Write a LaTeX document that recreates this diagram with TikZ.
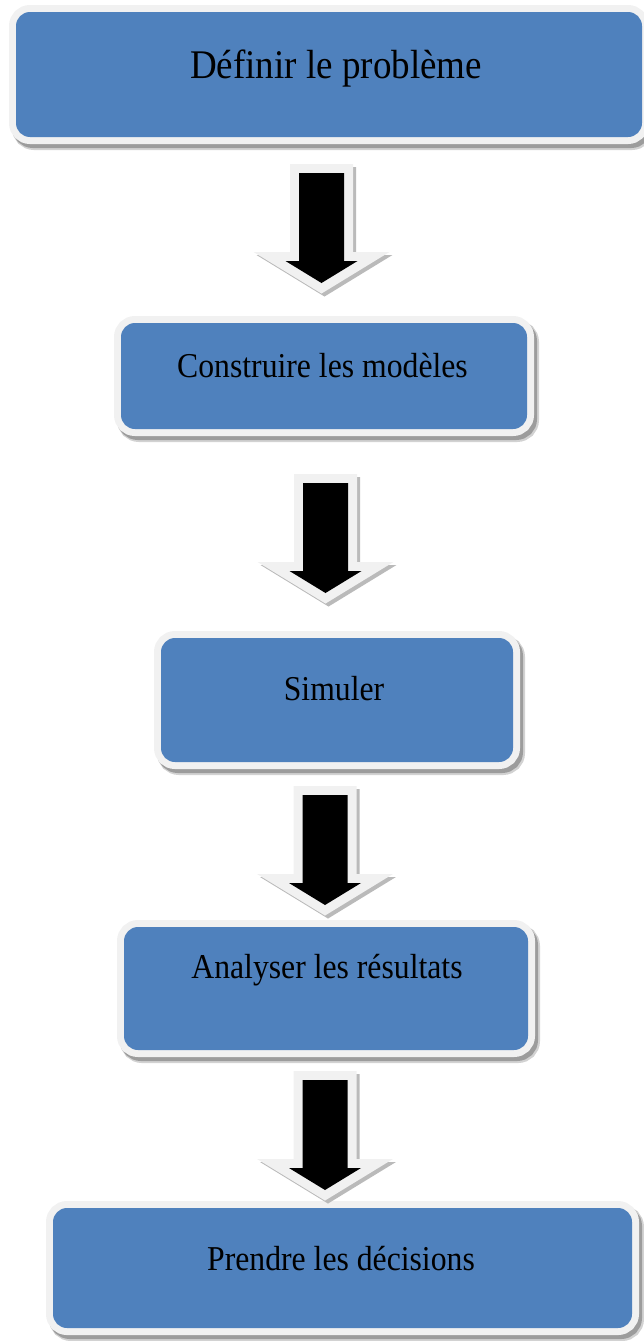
\documentclass[tikz,border=0pt]{standalone}
\usepackage{fontspec}
\usepackage{graphicx}
\setmainfont{Liberation Serif}
\newcommand\tallstep[1]{\scalebox{1}[1.1]{#1}}
\begin{document}
\definecolor{boxblue}{HTML}{4F81BD}
\definecolor{rimgray}{HTML}{F1F1F1}
\definecolor{shadegray}{HTML}{9C9C9C}
\begin{tikzpicture}[x=1pt,y=-1pt,
  stepbox/.style={fill=boxblue, rounded corners=14pt, inner sep=0pt, outer sep=0pt,
    preaction={draw=shadegray!45, line width=16pt, transform canvas={shift={(4,5)}}},
    preaction={draw=shadegray, line width=14pt, transform canvas={shift={(3,4)}}},
    preaction={draw=rimgray, line width=14pt}},
  steptext/.style={anchor=base, inner sep=0pt, text=black, font=\fontsize{31.7}{38}\selectfont},
  flowarrow/.pic={
    \begin{scope}[shift={(3,3)}]
      \draw[shadegray!70, fill=shadegray!70, line width=18pt, line join=miter]
        (-22.5,0) -- (22.5,0) -- (22.5,88) -- (36,88) -- (0,110) -- (-36,88) -- (-22.5,88) -- cycle;
    \end{scope}
    \draw[rimgray, fill=rimgray, line width=18pt, line join=miter]
      (-22.5,0) -- (22.5,0) -- (22.5,88) -- (36,88) -- (0,110) -- (-36,88) -- (-22.5,88) -- cycle;
    \fill[black]
      (-22.5,0) -- (22.5,0) -- (22.5,88) -- (36,88) -- (0,110) -- (-36,88) -- (-22.5,88) -- cycle;
  }]
\useasboundingbox (0,0) rectangle (644,1341);
\clip (0,0) rectangle (644,1341);

% process steps
\node[stepbox, minimum width=626pt, minimum height=125pt] (b1) at (329,74.5) {};
\node[stepbox, minimum width=406pt, minimum height=106pt] (b2) at (324,376) {};
\node[stepbox, minimum width=352pt, minimum height=124pt] (b3) at (337,700) {};
\node[stepbox, minimum width=404pt, minimum height=123pt] (b4) at (326,988.5) {};
\node[stepbox, minimum width=579pt, minimum height=120pt] (b5) at (342.5,1268) {};

\node[steptext, font=\fontsize{37}{44}\selectfont] (t1) at (336,78) {\tallstep{Définir le problème}};
\node[steptext] (t2) at (322.5,377) {\tallstep{Construire les modèles}};
\node[steptext] (t3) at (334,700) {\tallstep{Simuler}};
\node[steptext] (t4) at (327,978) {\tallstep{Analyser les résultats}};
\node[steptext] (t5) at (341,1270) {\tallstep{Prendre les décisions}};

% block arrows between the steps
\coordinate (a1) at (321.5,173);
\coordinate (a2) at (325.5,483);
\coordinate (a3) at (325,795);
\coordinate (a4) at (325,1080);
\foreach \a in {a1,a2,a3,a4} \pic at (\a) {flowarrow};
\end{tikzpicture}
\end{document}
